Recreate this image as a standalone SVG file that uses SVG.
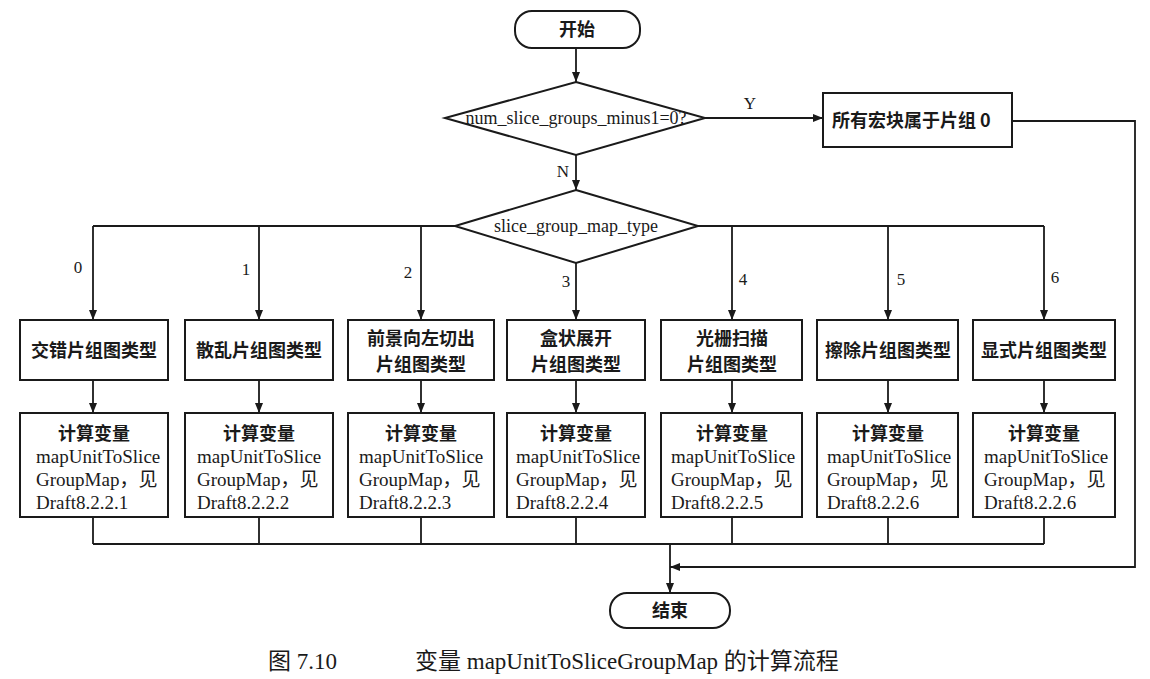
<svg xmlns="http://www.w3.org/2000/svg" width="1150" height="679" viewBox="0 0 1150 679">
<style>
.bg{fill:#ffffff}
.shape{fill:#ffffff;stroke:#1a1a1a;stroke-width:2}
.line{fill:none;stroke:#1a1a1a;stroke-width:1.8}
.arr{marker-end:url(#ah)}
.cjk{font-family:"Noto Sans CJK SC",sans-serif;font-size:18px;font-weight:bold;fill:#1a1a1a}
.ser{font-family:"Liberation Serif","Noto Sans CJK SC",serif;font-size:19px;fill:#1a1a1a}
.lbl{font-family:"Liberation Serif",serif;font-size:17px;fill:#1a1a1a}
.cap{font-family:"Liberation Serif","Noto Sans CJK SC",serif;font-size:23px;fill:#1a1a1a}
.mid{text-anchor:middle}
</style>
<defs>
<marker id="ah" viewBox="0 0 10 10" refX="10" refY="5" markerWidth="10" markerHeight="10" markerUnits="userSpaceOnUse" orient="auto">
<path d="M0,1 L10,5 L0,9 Z" fill="#1a1a1a"/>
</marker>
</defs>
<rect class="bg" x="0" y="0" width="1150" height="679"/>

<g id="connectors">
<line class="line arr" x1="576" y1="48" x2="576" y2="82"/>
<line class="line arr" x1="705" y1="118" x2="823" y2="118"/>
<line class="line arr" x1="576" y1="155" x2="576" y2="190"/>
<polyline class="line arr" points="1012,121 1135,121 1135,567 670,567"/>
<polyline class="line" points="455,226 93,226"/>
<polyline class="line" points="698,226 1044,226"/>
<line class="line arr" x1="93" y1="226" x2="93" y2="320"/>
<line class="line arr" x1="259" y1="226" x2="259" y2="320"/>
<line class="line arr" x1="421" y1="226" x2="421" y2="320"/>
<line class="line arr" x1="576" y1="263" x2="576" y2="320"/>
<line class="line arr" x1="732" y1="226" x2="732" y2="320"/>
<line class="line arr" x1="888" y1="226" x2="888" y2="320"/>
<line class="line arr" x1="1044" y1="226" x2="1044" y2="320"/>
<line class="line arr" x1="93" y1="380" x2="93" y2="413"/>
<line class="line arr" x1="259" y1="380" x2="259" y2="413"/>
<line class="line arr" x1="421" y1="380" x2="421" y2="413"/>
<line class="line arr" x1="576" y1="380" x2="576" y2="413"/>
<line class="line arr" x1="732" y1="380" x2="732" y2="413"/>
<line class="line arr" x1="888" y1="380" x2="888" y2="413"/>
<line class="line arr" x1="1044" y1="380" x2="1044" y2="413"/>
<line class="line" x1="93" y1="517" x2="93" y2="544"/>
<line class="line" x1="259" y1="517" x2="259" y2="544"/>
<line class="line" x1="421" y1="517" x2="421" y2="544"/>
<line class="line" x1="576" y1="517" x2="576" y2="544"/>
<line class="line" x1="732" y1="517" x2="732" y2="544"/>
<line class="line" x1="888" y1="517" x2="888" y2="544"/>
<line class="line" x1="1044" y1="517" x2="1044" y2="544"/>
<line class="line" x1="93" y1="544" x2="1044" y2="544"/>
<line class="line arr" x1="670" y1="544" x2="670" y2="593"/>
<text class="lbl" x="750" y="109" text-anchor="middle">Y</text>
<text class="lbl" x="563" y="177" text-anchor="middle">N</text>
<text class="lbl" x="78" y="273" text-anchor="middle">0</text>
<text class="lbl" x="246" y="275" text-anchor="middle">1</text>
<text class="lbl" x="408" y="278" text-anchor="middle">2</text>
<text class="lbl" x="566" y="287" text-anchor="middle">3</text>
<text class="lbl" x="743" y="285" text-anchor="middle">4</text>
<text class="lbl" x="901" y="285" text-anchor="middle">5</text>
<text class="lbl" x="1055" y="283" text-anchor="middle">6</text>
</g>

<g id="start">
<rect class="shape" x="515" y="11" width="125" height="37" rx="17"/>
<text class="cjk mid" x="577" y="36">开始</text>
</g>

<g id="dec1">
<polygon class="shape" points="576,82 705,118 576,155 445,118"/>
<text class="ser mid" x="576" y="124" style="font-size:18px">num_slice_groups_minus1=0?</text>
</g>

<g id="allzero">
<rect class="shape" x="823" y="93" width="189" height="54"/>
<text class="cjk" x="832" y="127">所有宏块属于片组 0</text>
</g>

<g id="dec2">
<polygon class="shape" points="576,190 698,226 576,263 455,226"/>
<text class="ser mid" x="576" y="232" style="font-size:18px">slice_group_map_type</text>
</g>

<g id="t0"><rect class="shape" x="20" y="320" width="148" height="60"/><text class="cjk mid" x="94" y="357">交错片组图类型</text></g>
<g id="t1"><rect class="shape" x="185" y="320" width="148" height="60"/><text class="cjk mid" x="259" y="357">散乱片组图类型</text></g>
<g id="t2"><rect class="shape" x="348" y="320" width="146" height="60"/><text class="cjk mid" x="421" y="345">前景向左切出</text><text class="cjk mid" x="421" y="371">片组图类型</text></g>
<g id="t3"><rect class="shape" x="507" y="320" width="138" height="60"/><text class="cjk mid" x="576" y="345">盒状展开</text><text class="cjk mid" x="576" y="371">片组图类型</text></g>
<g id="t4"><rect class="shape" x="661" y="320" width="141" height="60"/><text class="cjk mid" x="732" y="345">光栅扫描</text><text class="cjk mid" x="732" y="371">片组图类型</text></g>
<g id="t5"><rect class="shape" x="817" y="320" width="141" height="60"/><text class="cjk mid" x="888" y="357">擦除片组图类型</text></g>
<g id="t6"><rect class="shape" x="973" y="320" width="142" height="60"/><text class="cjk mid" x="1044" y="357">显式片组图类型</text></g>

<g id="c0"><rect class="shape" x="20" y="413" width="148" height="104"/><text class="cjk mid" x="94" y="440">计算变量</text><text class="ser" x="36" y="463">mapUnitToSlice</text><text class="ser" x="36" y="486">GroupMap，见</text><text class="ser" x="36" y="509">Draft8.2.2.1</text></g>
<g id="c1"><rect class="shape" x="185" y="413" width="148" height="104"/><text class="cjk mid" x="259" y="440">计算变量</text><text class="ser" x="197" y="463">mapUnitToSlice</text><text class="ser" x="197" y="486">GroupMap，见</text><text class="ser" x="197" y="509">Draft8.2.2.2</text></g>
<g id="c2"><rect class="shape" x="348" y="413" width="146" height="104"/><text class="cjk mid" x="421" y="440">计算变量</text><text class="ser" x="359" y="463">mapUnitToSlice</text><text class="ser" x="359" y="486">GroupMap，见</text><text class="ser" x="359" y="509">Draft8.2.2.3</text></g>
<g id="c3"><rect class="shape" x="507" y="413" width="138" height="104"/><text class="cjk mid" x="576" y="440">计算变量</text><text class="ser" x="516" y="463">mapUnitToSlice</text><text class="ser" x="516" y="486">GroupMap，见</text><text class="ser" x="516" y="509">Draft8.2.2.4</text></g>
<g id="c4"><rect class="shape" x="661" y="413" width="141" height="104"/><text class="cjk mid" x="732" y="440">计算变量</text><text class="ser" x="671" y="463">mapUnitToSlice</text><text class="ser" x="671" y="486">GroupMap，见</text><text class="ser" x="671" y="509">Draft8.2.2.5</text></g>
<g id="c5"><rect class="shape" x="817" y="413" width="141" height="104"/><text class="cjk mid" x="888" y="440">计算变量</text><text class="ser" x="827" y="463">mapUnitToSlice</text><text class="ser" x="827" y="486">GroupMap，见</text><text class="ser" x="827" y="509">Draft8.2.2.6</text></g>
<g id="c6"><rect class="shape" x="973" y="413" width="142" height="104"/><text class="cjk mid" x="1044" y="440">计算变量</text><text class="ser" x="984" y="463">mapUnitToSlice</text><text class="ser" x="984" y="486">GroupMap，见</text><text class="ser" x="984" y="509">Draft8.2.2.6</text></g>

<g id="end">
<rect class="shape" x="610" y="593" width="120" height="35" rx="17"/>
<text class="cjk mid" x="670" y="617">结束</text>
</g>

<g id="caption">
<text class="cap" x="268" y="669">图 7.10</text>
<text class="cap" x="415" y="669">变量 mapUnitToSliceGroupMap 的计算流程</text>
</g>
</svg>
